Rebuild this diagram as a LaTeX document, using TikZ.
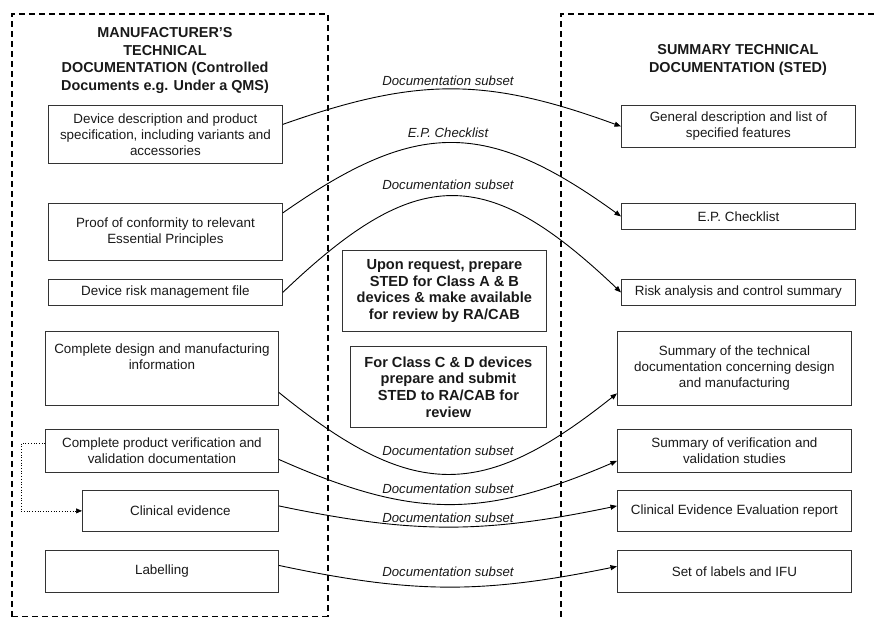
\documentclass[tikz,border=0pt]{standalone}
\usepackage{fontspec}
\setmainfont{Liberation Sans}
\usetikzlibrary{arrows.meta}
\tikzset{
  box/.style={draw=black!80, line width=0.8pt, align=center, inner sep=2pt,
    font=\fontsize{13.4}{16}\selectfont, text=black!90, anchor=north west},
  midbox/.style={draw=black!80, line width=0.8pt, align=center, inner sep=2pt,
    font=\fontsize{14.6}{16.7}\selectfont\bfseries, text=black!90, anchor=north west},
  heading/.style={align=center, font=\fontsize{14.4}{17.6}\selectfont\bfseries, text=black!90},
  conn/.style={line width=0.9pt, -{Triangle[length=6.5pt,width=5pt]}},
  lbl/.style={font=\fontsize{13.2}{16}\selectfont\itshape, text=black!90, inner sep=0pt},
  frame/.style={line width=1.3pt, dash pattern=on 6pt off 4pt},
  dotconn/.style={line width=0.7pt, dotted, -{Triangle[length=6pt,width=5pt]}}
}
\begin{document}
\begin{tikzpicture}[x=1pt,y=-1pt]
\useasboundingbox (0,0) rectangle (875,617);
% frames
\draw[frame] (12,617) -- (12,14) -- (328,14) -- (328,617);
\draw[frame] (12,616.8) -- (328,616.8);
\draw[frame] (561,617) -- (561,14) -- (880,14);
% headings
\node[heading] (hl) at (165,60.5) {MANUFACTURER'S\\TECHNICAL\\DOCUMENTATION (Controlled\\Documents e.g. Under a QMS)};
\node[heading] (hr) at (738,60) {SUMMARY TECHNICAL\\DOCUMENTATION (STED)};
% left boxes
\node[box, minimum width=234, minimum height=58] (l1) at (48,105) {Device description and product\\specification, including variants and\\accessories};
\node[box, minimum width=234, minimum height=57] (l2) at (48,203) {Proof of conformity to relevant\\Essential Principles};
\node[box, minimum width=234, minimum height=26] (l3) at (48,279) {Device risk management file};
\node[box, minimum width=233, minimum height=74,
  label={[font=\fontsize{13.4}{16}\selectfont, text=black!90, align=center, anchor=north, yshift=-9pt]north:Complete design and manufacturing\\information}] (l4) at (45,331) {};
\node[box, minimum width=233, minimum height=43] (l5) at (45,429) {Complete product verification and\\validation documentation};
\node[box, minimum width=196, minimum height=41] (l6) at (82,490) {Clinical evidence};
\node[box, minimum width=233, minimum height=42] (l7) at (45,550) {Labelling};
% right boxes
\node[box, minimum width=234, minimum height=42] (r1) at (621,105) {General description and list of\\specified features};
\node[box, minimum width=234, minimum height=26] (r2) at (621,203) {E.P. Checklist};
\node[box, minimum width=234, minimum height=26] (r3) at (621,279) {Risk analysis and control summary};
\node[box, minimum width=234, minimum height=74] (r4) at (617,331) {Summary of the technical\\documentation concerning design\\and manufacturing};
\node[box, minimum width=234, minimum height=43] (r5) at (617,429) {Summary of verification and\\validation studies};
\node[box, minimum width=234, minimum height=41] (r6) at (617,490) {Clinical Evidence Evaluation report};
\node[box, minimum width=234, minimum height=42] (r7) at (617,550) {Set of labels and IFU};
% middle boxes
\node[midbox, minimum width=204, minimum height=81] (m1) at (342,250) {Upon request, prepare\\STED for Class A \& B\\devices \& make available\\for review by RA/CAB};
\node[midbox, minimum width=196, minimum height=81] (m2) at (350,346) {For Class C \& D devices\\prepare and submit\\STED to RA/CAB for\\review};
% connectors
\draw[conn] ([yshift=10pt]l1.east) .. controls (417,77) and (486,77) .. (r1.west);
\draw[conn] ([yshift=19pt]l2.east) .. controls (417,119) and (486,119) .. (r2.west);
\draw[conn] (l3.east) .. controls (417,164) and (486,164) .. (r3.west);
\draw[conn] ([yshift=-24pt]l4.east) .. controls (413,501) and (482,501) .. ([yshift=-25pt]r4.west);
\draw[conn] ([yshift=-8.5pt]l5.east) .. controls (413,519) and (482,519) .. ([yshift=-10pt]r5.west);
\draw[conn] ([yshift=5pt]l6.east) .. controls (413,534) and (482,534) .. ([yshift=5pt]r6.west);
\draw[conn] ([yshift=6pt]l7.east) .. controls (413,594) and (482,594) .. ([yshift=5pt]r7.west);
\draw[dotconn] ([yshift=7.5pt]l5.west) -- ++(-24,0) |- (l6.west);
% labels
\node[lbl] (t1) at (448,81) {Documentation subset};
\node[lbl] (t2) at (448,133) {E.P. Checklist};
\node[lbl] (t3) at (448,185) {Documentation subset};
\node[lbl] (t4) at (448,451) {Documentation subset};
\node[lbl] (t5) at (448,489) {Documentation subset};
\node[lbl] (t6) at (448,518) {Documentation subset};
\node[lbl] (t7) at (448,572) {Documentation subset};
\end{tikzpicture}
\end{document}
